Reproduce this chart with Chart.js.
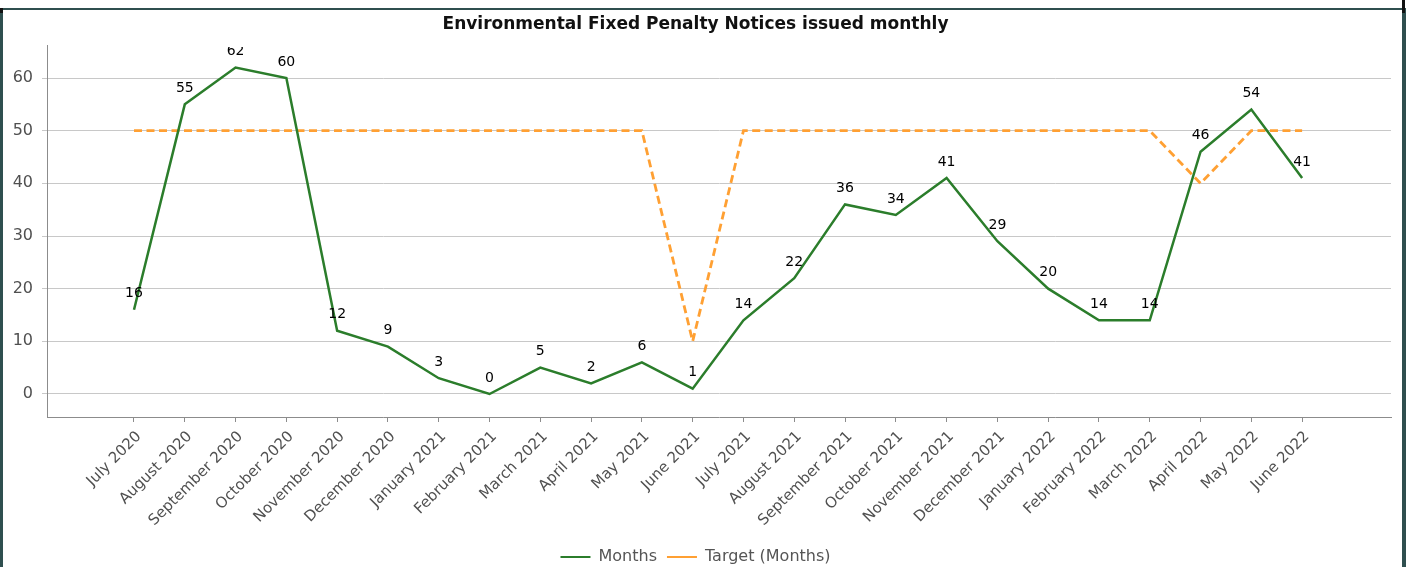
<!DOCTYPE html>
<html>
<head>
<meta charset="utf-8">
<title>Environmental Fixed Penalty Notices issued monthly</title>
<script src="https://cdn.jsdelivr.net/npm/chart.js@4.4.1/dist/chart.umd.min.js"></script>
<style>
  html, body { margin: 0; padding: 0; background: #fff; overflow: hidden; }
  #wrap { position: relative; width: 1415px; height: 567px; overflow: hidden; }
  #grafik { position: absolute; left: 0; top: 0; }
  .bingkai { position: absolute; background: #2f4f4f; }
  .sudut { position: absolute; background: #111; }
</style>
</head>
<body>
<div id="wrap">
  <canvas id="grafik" width="1415" height="575"></canvas>
  <!-- bingkai panel -->
  <div class="bingkai" style="left:0;top:8px;width:1406px;height:2px"></div>
  <div class="bingkai" style="left:0;top:8px;width:3px;height:560px"></div>
  <div class="bingkai" style="left:1402px;top:8px;width:4px;height:560px"></div>
  <div class="sudut" style="left:0;top:8px;width:3px;height:5px"></div>
  <div class="sudut" style="left:1402px;top:0;width:3px;height:13px"></div>
</div>
<script>
// Label bulan untuk sumbu X
const labelBulan = [
  'July 2020', 'August 2020', 'September 2020', 'October 2020', 'November 2020', 'December 2020',
  'January 2021', 'February 2021', 'March 2021', 'April 2021', 'May 2021', 'June 2021',
  'July 2021', 'August 2021', 'September 2021', 'October 2021', 'November 2021', 'December 2021',
  'January 2022', 'February 2022', 'March 2022', 'April 2022', 'May 2022', 'June 2022'
];

// Jumlah FPN per bulan
const dataBulanan = [16, 55, 62, 60, 12, 9, 3, 0, 5, 2, 6, 1, 14, 22, 36, 34, 41, 29, 20, 14, 14, 46, 54, 41];

// Target per bulan
const dataTarget = [50, 50, 50, 50, 50, 50, 50, 50, 50, 50, 50, 10, 50, 50, 50, 50, 50, 50, 50, 50, 50, 40, 50, 50];

// Tick sumbu Y
const tickSumbuY = [0, 10, 20, 30, 40, 50, 60];

const FONT = '"DejaVu Sans", Verdana, sans-serif';
const HIJAU = '#2b7d2b';
const ORANYE = '#ffa033';

// Tulis nilai di atas setiap titik seri "Months"
const pluginLabelNilai = {
  id: 'labelNilai',
  afterDatasetsDraw(chart) {
    const { ctx, chartArea } = chart;
    const meta = chart.getDatasetMeta(0);
    ctx.save();
    ctx.beginPath();
    // label yang keluar dari area plot ikut terpotong
    ctx.rect(chartArea.left, chartArea.top + 2, chartArea.right - chartArea.left, chartArea.bottom - chartArea.top - 2);
    ctx.clip();
    ctx.font = '14px ' + FONT;
    ctx.fillStyle = '#000';
    ctx.textAlign = 'center';
    ctx.textBaseline = 'middle';
    meta.data.forEach((titik, i) => {
      ctx.fillText(String(dataBulanan[i]), titik.x, titik.y - 16);
    });
    ctx.restore();
  }
};

function tampilkanGrafik() {
  const canvas = document.getElementById('grafik');
  if (!canvas) {
    console.error('Canvas grafik tidak ditemukan.');
    return;
  }

  new Chart(canvas.getContext('2d'), {
    type: 'line',
    data: {
      datasets: [{
        label: 'Months',
        data: dataBulanan.map((v, i) => ({ x: i, y: v })),
        borderColor: HIJAU,
        backgroundColor: HIJAU,
        borderWidth: 2.5,
        pointRadius: 0,
        tension: 0,
        fill: false
      }, {
        label: 'Target (Months)',
        data: dataTarget.map((v, i) => ({ x: i, y: v })),
        borderColor: ORANYE,
        backgroundColor: ORANYE,
        borderWidth: 2.8,
        borderDash: [8, 4.5],
        pointRadius: 0,
        tension: 0,
        fill: false
      }]
    },
    options: {
      responsive: false,
      animation: false,
      devicePixelRatio: 1,
      layout: { padding: { left: 0, right: 24, top: 0, bottom: 0 } },
      plugins: {
        title: {
          display: true,
          text: 'Environmental Fixed Penalty Notices issued monthly',
          color: '#111',
          font: { family: FONT, size: 17, weight: 'bold' },
          padding: { top: 14, bottom: 10.6 }
        },
        legend: {
          position: 'bottom',
          labels: {
            color: '#555',
            font: { family: FONT, size: 16 },
            boxWidth: 30,
            boxHeight: 2,
            padding: 10,
            generateLabels(chart) {
              const items = Chart.defaults.plugins.legend.labels.generateLabels(chart);
              return items.map((it) => Object.assign(it, {
                fillStyle: it.strokeStyle,
                lineWidth: 0,
                lineDash: []
              }));
            }
          }
        },
        tooltip: { enabled: false }
      },
      scales: {
        x: {
          type: 'linear',
          min: -1.713,
          max: 24.75,
          afterBuildTicks: (skala) => { skala.ticks = labelBulan.map((_, i) => ({ value: i })); },
          afterFit: (skala) => { skala.height = 122; },
          grid: { drawOnChartArea: false, drawTicks: true, tickLength: 5, color: '#8c8c8c' },
          border: { color: '#8c8c8c', width: 1 },
          ticks: {
            autoSkip: false,
            minRotation: 45,
            maxRotation: 45,
            padding: 6,
            labelOffset: 5,
            color: '#505050',
            font: { family: FONT, size: 15 },
            callback: (v) => labelBulan[v] ?? ''
          }
        },
        y: {
          min: -4.37,
          max: 66.27,
          afterBuildTicks: (skala) => { skala.ticks = tickSumbuY.map((v) => ({ value: v })); },
          afterFit: (skala) => { skala.width = 47; },
          grid: { color: '#c8c8c8', tickLength: 5, lineWidth: 1 },
          border: { color: '#8c8c8c', width: 1 },
          ticks: { padding: 9, color: '#505050', font: { family: FONT, size: 16 } }
        }
      }
    },
    plugins: [pluginLabelNilai]
  });
}

document.addEventListener('DOMContentLoaded', () => {
  try {
    tampilkanGrafik();
  } catch (error) {
    console.error('Gagal memuat grafik:', error);
  }
});
</script>
</body>
</html>
